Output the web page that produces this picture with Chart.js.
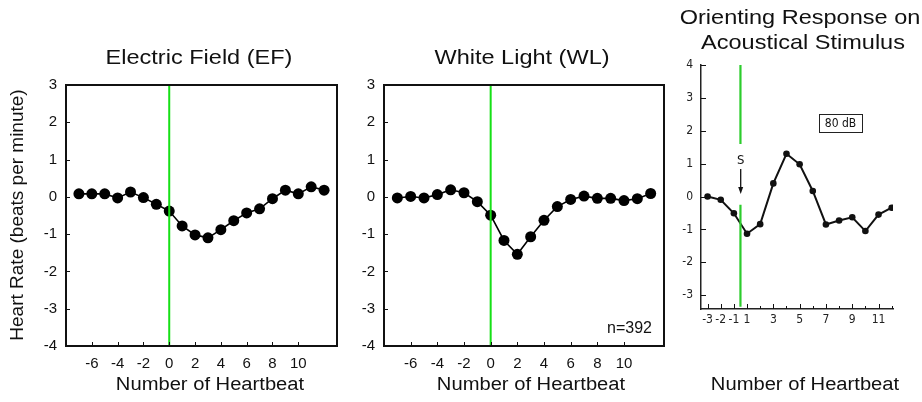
<!DOCTYPE html>
<html>
<head>
<meta charset="utf-8">
<script src="https://cdn.jsdelivr.net/npm/chart.js@4.4.1/dist/chart.umd.min.js"></script>
<style>
  body { margin: 0; background: #fff; width: 922px; height: 402px; overflow: hidden; position: relative; }
  .panel { position: absolute; top: 0; height: 402px; }
</style>
</head>
<body>
<div class="panel" style="left:0;width:345px"><canvas id="chartEF"></canvas></div>
<div class="panel" style="left:345px;width:327px"><canvas id="chartWL"></canvas></div>
<div class="panel" style="left:672px;width:250px"><canvas id="chartAC"></canvas></div>
<script>
// heartbeat numbers (x) for the two left panels
var beats = [-7, -6, -5, -4, -3, -2, -1, 0, 1, 2, 3, 4, 5, 6, 7, 8, 9, 10, 11, 12];
// heart rate change, electric field
var efRate = [0.08, 0.08, 0.08, -0.03, 0.13, -0.02, -0.2, -0.38, -0.78, -1.02, -1.1, -0.88, -0.64, -0.43, -0.32, -0.05, 0.18, 0.08, 0.27, 0.18];
// heart rate change, white light
var wlRate = [-0.03, 0.01, -0.03, 0.06, 0.19, 0.11, -0.13, -0.49, -1.17, -1.54, -1.07, -0.63, -0.26, -0.07, 0.02, -0.04, -0.04, -0.1, -0.05, 0.09];
var beatTicks = [-6, -4, -2, 0, 2, 4, 6, 8, 10];
var rateTicks = [-4, -3, -2, -1, 0, 1, 2, 3];
var stimulusBeat = 0;
var stimulusSpan = [3, -4];

// acoustical stimulus panel (scanned figure, no beat "0")
var acBeats = ['-3', '-2', '-1', '1', '2', '3', '4', '5', '6', '7', '8', '9', '10', '11', '12'];
var acShown = ['-3', '-2', '-1', '1', '3', '5', '7', '9', '11'];
var acRate = [0, -0.1, -0.51, -1.13, -0.84, 0.4, 1.3, 0.98, 0.17, -0.85, -0.73, -0.63, -1.05, -0.55, -0.34];
var acTicks = [-3, -2, -1, 0, 1, 2, 3, 4];
var acStimulusPos = 2.5;
var acStimulusSpan = [4, 1.6, null, -0.25, -3.35];

var FONT = "'Liberation Sans', Arial, sans-serif";
var NARROW = "'Liberation Sans Narrow', 'DejaVu Sans Condensed', 'Liberation Sans', sans-serif";

// draws frame, inward tick marks and free text
var deco = {
  id: 'deco',
  afterDraw: function (chart, args, o) {
    var ctx = chart.ctx, a = chart.chartArea;
    var xs = chart.scales.x, ys = chart.scales.y;
    ctx.save();
    ctx.strokeStyle = '#111';
    ctx.lineWidth = o.lineWidth;
    if (o.box) {
      ctx.strokeRect(a.left, a.top, a.right - a.left, a.bottom - a.top);
    }
    ctx.lineWidth = 1;
    ctx.beginPath();
    xs.ticks.forEach(function (t) {
      var px = Math.round(xs.getPixelForValue(t.value)) + 0.5;
      var len = t.label === '' ? o.tickMinor : o.tickLen;
      ctx.moveTo(px, a.bottom);
      ctx.lineTo(px, a.bottom - len);
    });
    ys.ticks.forEach(function (t) {
      var py = Math.round(ys.getPixelForValue(t.value)) + 0.5;
      ctx.moveTo(a.left, py);
      ctx.lineTo(a.left + o.tickLen, py);
    });
    ctx.stroke();

    (o.texts || []).forEach(function (t) {
      ctx.save();
      ctx.font = t.font;
      ctx.fillStyle = '#111';
      ctx.textAlign = t.align || 'center';
      ctx.textBaseline = 'middle';
      ctx.translate(t.x, t.y);
      if (t.rotate) ctx.rotate(t.rotate);
      if (t.sx) ctx.scale(t.sx, 1);
      ctx.fillText(t.text, 0, 0);
      ctx.restore();
    });

    if (o.dbBox) {
      var b = o.dbBox;
      ctx.lineWidth = 1;
      ctx.strokeStyle = '#222';
      ctx.strokeRect(b.x + 0.5, b.y + 0.5, b.w, b.h);
    }
    if (o.arrow) {
      var w = o.arrow;
      ctx.strokeStyle = '#111';
      ctx.fillStyle = '#111';
      ctx.lineWidth = 1.3;
      ctx.beginPath();
      ctx.moveTo(w.x, w.y1);
      ctx.lineTo(w.x, w.y2 - 5);
      ctx.stroke();
      ctx.beginPath();
      ctx.moveTo(w.x - 2.5, w.y2 - 7);
      ctx.lineTo(w.x + 2.5, w.y2 - 7);
      ctx.lineTo(w.x, w.y2);
      ctx.closePath();
      ctx.fill();
    }
    ctx.restore();
  }
};

function heartPanel(id, rate, opts) {
  var points = beats.map(function (b, i) { return { x: b, y: rate[i] }; });
  var stim = stimulusSpan.map(function (v) { return { x: stimulusBeat, y: v }; });
  return new Chart(document.getElementById(id), {
    type: 'line',
    data: {
      datasets: [{
        data: stim,
        borderColor: '#16e016',
        borderWidth: 2,
        pointRadius: 0,
        order: 0
      }, {
        data: points,
        borderColor: '#000',
        borderWidth: 1.6,
        pointRadius: 5.5,
        pointBackgroundColor: '#000',
        pointBorderWidth: 0,
        order: 1
      }]
    },
    options: {
      responsive: true,
      maintainAspectRatio: false,
      animation: false,
      events: [],
      layout: { padding: { top: 85, right: 8, left: 0, bottom: 0 } },
      plugins: {
        legend: { display: false },
        tooltip: { enabled: false },
        deco: { box: true, lineWidth: 2, tickLen: 4, tickMinor: 4, texts: opts.texts }
      },
      scales: {
        x: {
          type: 'linear', min: -8, max: 13,
          afterBuildTicks: function (s) { s.ticks = beatTicks.map(function (v) { return { value: v }; }); },
          afterFit: function (s) { s.height = 56; },
          grid: { display: false, drawTicks: false },
          border: { display: false },
          ticks: { autoSkip: false, maxRotation: 0, padding: 9, color: '#111', font: { family: FONT, size: 15 } }
        },
        y: {
          min: -4, max: 3,
          afterBuildTicks: function (s) { s.ticks = rateTicks.map(function (v) { return { value: v }; }); },
          afterFit: function (s) { s.width = opts.yWidth; },
          grid: { display: false, drawTicks: false },
          border: { display: false },
          ticks: { padding: 9, color: '#111', font: { family: FONT, size: 15 } }
        }
      }
    },
    plugins: [deco]
  });
}

heartPanel('chartEF', efRate, {
  yWidth: 66,
  texts: [
    { text: 'Electric Field (EF)', x: 199, y: 58, sx: 1.12, font: '21px ' + FONT },
    { text: 'Number of Heartbeat', x: 210, y: 385, sx: 1.12, font: '18px ' + FONT },
    { text: 'Heart Rate (beats per minute)', x: 18, y: 215, rotate: -Math.PI / 2, font: '19px ' + FONT }
  ]
});

heartPanel('chartWL', wlRate, {
  yWidth: 39,
  texts: [
    { text: 'White Light (WL)', x: 177, y: 58, sx: 1.12, font: '21px ' + FONT },
    { text: 'Number of Heartbeat', x: 186, y: 385, sx: 1.12, font: '18px ' + FONT },
    { text: 'n=392', x: 307, y: 329, align: 'right', font: '16px ' + FONT }
  ]
});

// acoustical stimulus panel
var acPoints = acBeats.map(function (b, i) { return { x: i, y: acRate[i] }; });
var acStim = acStimulusSpan.map(function (v) { return { x: acStimulusPos, y: v }; });
new Chart(document.getElementById('chartAC'), {
  type: 'line',
  data: {
    datasets: [{
      data: acStim,
      borderColor: '#2ccc2c',
      borderWidth: 2.2,
      pointRadius: 0,
      spanGaps: false,
      order: 0
    }, {
      data: acPoints,
      borderColor: '#111',
      borderWidth: 2,
      pointRadius: 3.3,
      pointBackgroundColor: '#111',
      pointBorderWidth: 0,
      order: 1
    }]
  },
  options: {
    responsive: true,
    maintainAspectRatio: false,
    animation: false,
    events: [],
    layout: { padding: { top: 65, right: 29, left: 0, bottom: 0 } },
    plugins: {
      legend: { display: false },
      tooltip: { enabled: false },
      deco: {
        box: false, lineWidth: 1.5, tickLen: 5, tickMinor: 3,
        texts: [
          { text: 'Orienting Response on', x: 128, y: 18, sx: 1.12, font: '21px ' + FONT },
          { text: 'Acoustical Stimulus', x: 131, y: 43, sx: 1.12, font: '21px ' + FONT },
          { text: 'Number of Heartbeat', x: 133, y: 385, sx: 1.12, font: '18px ' + FONT },
          { text: '80 dB', x: 168.5, y: 123.5, font: '12px ' + NARROW },
          { text: 'S', x: 68.7, y: 161, font: '13px ' + NARROW }
        ],
        dbBox: { x: 147, y: 114, w: 43, h: 18 },
        arrow: { x: 68.7, y1: 169, y2: 194 }
      }
    },
    scales: {
      x: {
        type: 'linear', min: -0.5, max: 14.1,
        afterBuildTicks: function (s) { s.ticks = acBeats.map(function (b, i) { return { value: i }; }); },
        afterFit: function (s) { s.height = 93; },
        grid: { display: false, drawTicks: false },
        border: { display: true, color: '#222', width: 1.5 },
        ticks: {
          autoSkip: false, maxRotation: 0, padding: 4, color: '#222',
          font: { family: NARROW, size: 12 },
          callback: function (v) { var l = acBeats[v]; return acShown.indexOf(l) >= 0 ? l : ''; }
        }
      },
      y: {
        min: -3.42, max: 4,
        afterBuildTicks: function (s) { s.ticks = acTicks.map(function (v) { return { value: v }; }); },
        afterFit: function (s) { s.width = 29; },
        grid: { display: false, drawTicks: false },
        border: { display: true, color: '#222', width: 1.5 },
        ticks: { padding: 8, color: '#222', font: { family: NARROW, size: 12 } }
      }
    }
  },
  plugins: [deco]
});
</script>
</body>
</html>
